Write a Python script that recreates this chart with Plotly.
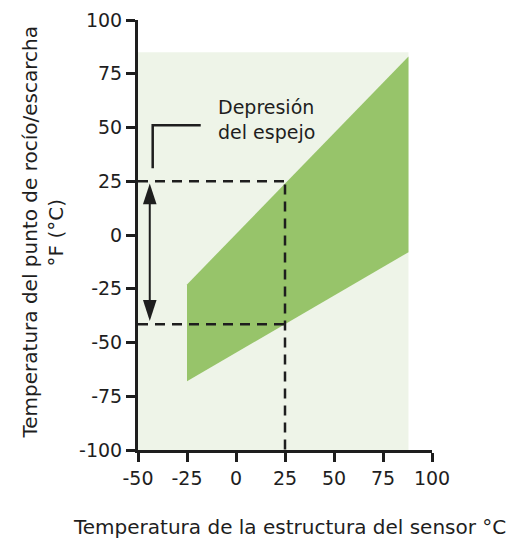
import plotly.graph_objects as go

# ---- data ----
x_ticks = [-50, -25, 0, 25, 50, 75, 100]
x_tick_labels = ["-50", "-25", "0", "25", "50", "75", "100"]
y_ticks = [-100, -75, -50, -25, 0, 25, 50, 75, 100]
y_tick_labels = ["-100", "-75", "-50", "-25", "0", "25", "50", "75", "100"]

bg_x = [-50, 88, 88, -50]
bg_y = [-100, -100, 85, 85]

band_x = [-25, 88, 88, -25]
band_y = [-23, 83, -8, -68]

sensor_temp = 25
dew_upper = 25
dew_lower = -41.5
x_min = -50
y_min = -100

arrow_x = -44
arrow_top = 24
arrow_bottom = -40

callout_x = [-42.5, -42.5, -18]
callout_y = [31, 51, 51]

FONT = "DejaVu Sans"
INK = "#1e1e1e"

fig = go.Figure()

fig.add_trace(go.Scatter(x=bg_x, y=bg_y, fill="toself", fillcolor="#EEF4E8",
                         mode="none", hoverinfo="skip", showlegend=False))
fig.add_trace(go.Scatter(x=band_x, y=band_y, fill="toself", fillcolor="#97C46A",
                         mode="none", hoverinfo="skip", showlegend=False))

dash = "10px,7px"
fig.add_trace(go.Scatter(x=[x_min, sensor_temp], y=[dew_upper, dew_upper], mode="lines",
                         line=dict(color=INK, width=2.5, dash=dash), showlegend=False))
fig.add_trace(go.Scatter(x=[x_min, sensor_temp], y=[dew_lower, dew_lower], mode="lines",
                         line=dict(color=INK, width=2.5, dash=dash), showlegend=False))
fig.add_trace(go.Scatter(x=[sensor_temp, sensor_temp], y=[dew_upper - 1.5, y_min], mode="lines",
                         line=dict(color=INK, width=2.5, dash=dash), showlegend=False))

# double arrow
fig.add_trace(go.Scatter(x=[arrow_x, arrow_x], y=[arrow_top - 3, arrow_bottom + 3], mode="lines",
                         line=dict(color=INK, width=2), showlegend=False))
fig.add_trace(go.Scatter(x=[arrow_x, arrow_x], y=[arrow_top, arrow_bottom], mode="markers",
                         marker=dict(symbol="arrow", size=22, angle=[0, 180], color=INK,
                                     line=dict(width=0)),
                         showlegend=False))

# callout bracket
fig.add_trace(go.Scatter(x=callout_x, y=callout_y, mode="lines",
                         line=dict(color=INK, width=2.5), showlegend=False))

fig.add_annotation(x=-10, y=53.5, xref="x", yref="y", text="Depresión<br>del espejo",
                   showarrow=False, xanchor="left", yanchor="middle", align="left",
                   font=dict(family=FONT, size=19, color=INK))

# axis titles
fig.add_annotation(x=0.515, y=-0.179, xref="paper", yref="paper",
                   text="Temperatura de la estructura del sensor °C",
                   showarrow=False, xanchor="center", yanchor="middle",
                   font=dict(family=FONT, size=20, color=INK))
fig.add_annotation(x=-0.367, y=0.506, xref="paper", yref="paper",
                   text="Temperatura del punto de rocío/escarcha",
                   textangle=-90, showarrow=False, xanchor="center", yanchor="middle",
                   font=dict(family=FONT, size=20, color=INK))
fig.add_annotation(x=-0.279, y=0.506, xref="paper", yref="paper",
                   text="°F (°C)",
                   textangle=-90, showarrow=False, xanchor="center", yanchor="middle",
                   font=dict(family=FONT, size=20, color=INK))

axis_common = dict(showline=True, linecolor=INK, linewidth=3, ticks="outside",
                   ticklen=9, tickwidth=3, tickcolor=INK, showgrid=False, zeroline=False,
                   automargin=False,
                   tickfont=dict(family=FONT, size=19, color=INK))

fig.update_xaxes(range=[-50, 100], tickvals=x_ticks, ticktext=x_tick_labels, **axis_common)
fig.update_yaxes(range=[-100, 100], tickvals=y_ticks, ticktext=y_tick_labels, **axis_common)

# page body has an 8px margin; size the figure so it fits the 522x540 window
fig.update_layout(width=514, height=532, margin=dict(l=130, r=90, t=12, b=90),
                  paper_bgcolor="white", plot_bgcolor="white", showlegend=False)

fig.write_html("out.html")
